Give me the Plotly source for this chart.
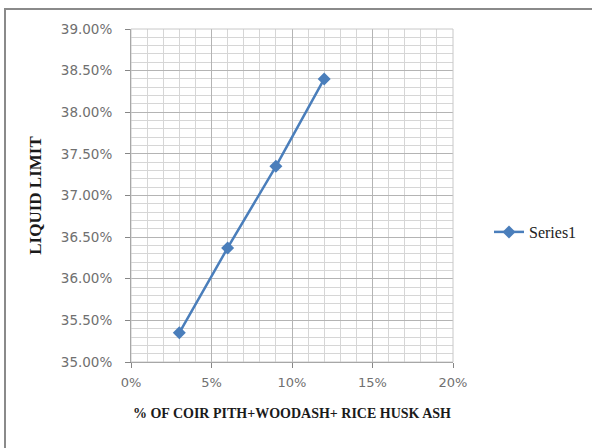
import plotly.graph_objects as go

x_vals = [0.03, 0.06, 0.09, 0.12]
liquid_limit = [0.3535, 0.3637, 0.3735, 0.3840]
series_name = "Series1"
x_title = "% OF COIR PITH+WOODASH+ RICE HUSK ASH"
y_title = "LIQUID LIMIT"

L, R, T, B = 131, 453, 29, 362
W, H = 592, 448

fig = go.Figure()
fig.add_trace(go.Scatter(
    x=x_vals, y=liquid_limit, mode="lines+markers", name=series_name,
    line=dict(color="#4A7EBB", width=2.5),
    marker=dict(symbol="diamond", size=10, color="#4A7EBB"),
))

pw, ph = R - L, B - T
def px(xp):
    return (xp - L) / pw
def py(yp):
    return (B - yp) / ph

fig.update_layout(
    width=W, height=H,
    margin=dict(l=L, r=W - R, t=T, b=H - B, autoexpand=False),
    paper_bgcolor="white", plot_bgcolor="white",
    showlegend=True,
    legend=dict(x=px(489), y=py(232), xanchor="left", yanchor="middle",
                font=dict(family="Liberation Serif", size=16, color="#222222"),
                bgcolor="rgba(0,0,0,0)", itemwidth=30),
    xaxis=dict(
        range=[0, 0.20], dtick=0.05, tick0=0, tickformat=".0%",
        showgrid=True, gridcolor="#b4b4b4", gridwidth=1,
        minor=dict(dtick=0.01, showgrid=True, gridcolor="#d6d6d6", gridwidth=1),
        ticks="outside", ticklen=5, tickcolor="#868686",
        showline=True, linecolor="#868686", linewidth=1, mirror=False,
        zeroline=False, ticklabelstandoff=3, automargin=False,
        tickfont=dict(family="DejaVu Sans", size=13, color="#707070"),
        title=dict(text=x_title, standoff=19,
                   font=dict(family="Liberation Serif", size=14, color="#1a1a1a", weight="bold")),
    ),
    yaxis=dict(
        range=[0.35, 0.39], dtick=0.005, tick0=0.35, tickformat=".2%",
        showgrid=True, gridcolor="#b4b4b4", gridwidth=1,
        minor=dict(dtick=0.001, showgrid=True, gridcolor="#d6d6d6", gridwidth=1),
        ticks="outside", ticklen=5, tickcolor="#868686",
        showline=True, linecolor="#868686", linewidth=1,
        zeroline=False, ticklabelstandoff=10, automargin=False,
        tickfont=dict(family="DejaVu Sans", size=13.5, color="#707070"),
        title=dict(text=y_title, standoff=14,
                   font=dict(family="Liberation Serif", size=17, color="#1a1a1a", weight="bold")),
    ),
    shapes=[
        dict(type="rect", xref="paper", yref="paper",
             x0=px(L), x1=px(R), y0=0, y1=1,
             line=dict(color="#c8c8c8", width=1)),
        dict(type="rect", xref="paper", yref="paper",
             x0=px(5), x1=px(600), y0=py(460), y1=py(9),
             line=dict(color="#8a8a8a", width=2), layer="below"),
    ],
)

fig.write_html("out.html", config={"displayModeBar": False},
               post_script="document.body.style.margin='0';")
